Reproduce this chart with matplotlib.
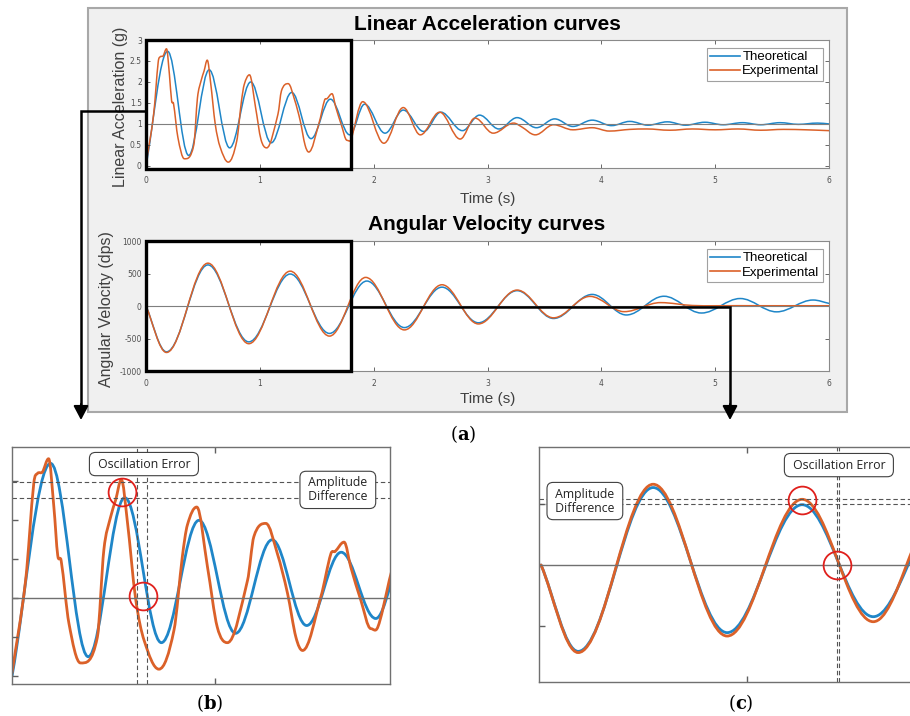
import matplotlib
matplotlib.use('Agg')
import matplotlib.pyplot as plt
import numpy as np
from matplotlib.path import Path
from matplotlib.patches import PathPatch, Rectangle
from matplotlib.lines import Line2D

plt.rcParams['mathtext.fontset'] = 'dejavuserif'

# --- data (time in s) ---
acc_theo_t = [0.0, 0.19, 0.375, 0.555, 0.735, 0.92, 1.10, 1.28, 1.45, 1.62, 1.79,
              1.92, 2.10, 2.26, 2.44, 2.59, 2.78, 2.93, 3.10, 3.26, 3.43, 3.59, 3.75,
              3.92, 4.09, 4.25, 4.41, 4.58, 4.74, 4.91, 5.07, 5.24, 5.40, 5.57, 5.73,
              5.90, 6.0]
acc_theo_v = [0.0, 2.73, 0.25, 2.29, 0.43, 2.00, 0.55, 1.75, 0.65, 1.59, 0.74,
              1.47, 0.78, 1.33, 0.82, 1.28, 0.84, 1.21, 0.88, 1.15, 0.91, 1.12, 0.94,
              1.09, 0.96, 1.06, 0.97, 1.05, 0.97, 1.04, 0.98, 1.03, 0.98, 1.03, 0.99,
              1.02, 1.00]

acc_exp_t = [0.0, 0.067, 0.107, 0.125, 0.15, 0.18, 0.206, 0.225, 0.242, 0.28, 0.337,
             0.42, 0.452, 0.485, 0.51, 0.538, 0.567, 0.608, 0.65, 0.723, 0.797, 0.838,
             0.863, 0.909, 0.962, 1.01, 1.06, 1.159, 1.19, 1.249, 1.306, 1.356, 1.397,
             1.43, 1.52, 1.569, 1.59, 1.634, 1.667, 1.717, 1.766, 1.80, 1.904, 2.09,
             2.26, 2.41, 2.58, 2.76, 2.89, 3.05, 3.23, 3.30, 3.42, 3.58, 3.75, 3.92,
             4.07, 4.25, 4.4, 4.6, 4.8, 5.0, 5.2, 5.4, 5.6, 5.8, 6.0]
acc_exp_v = [0.04, 1.23, 2.47, 2.60, 2.62, 2.79, 2.17, 1.55, 1.48, 0.68, 0.17,
             0.50, 1.62, 2.04, 2.26, 2.52, 2.00, 1.00, 0.46, 0.09, 0.59, 1.53,
             1.94, 2.17, 1.40, 0.63, 0.43, 1.23, 1.79, 1.96, 1.57, 1.06, 0.50,
             0.33, 1.02, 1.57, 1.60, 1.72, 1.40, 0.97, 0.61, 0.63, 1.53, 0.54,
             1.39, 0.74, 1.28, 0.64, 1.14, 0.78, 1.02, 0.93, 0.74, 0.98, 0.86, 0.91,
             0.83, 0.87, 0.88, 0.85, 0.88, 0.86, 0.88, 0.85, 0.87, 0.86, 0.84]

ang_theo_t = [0.0, 0.18, 0.544, 0.903, 1.267, 1.612, 1.94, 2.27, 2.60, 2.92, 3.26,
              3.58, 3.92, 4.22, 4.55, 4.88, 5.22, 5.54, 5.86, 6.0]
ang_theo_v = [0, -705, 632, -552, 492, -422, 384, -332, 290, -258, 236,
              -192, 178, -138, 150, -108, 115, -90, 92, 40]

ang_exp_t = [0.0, 0.18, 0.544, 0.903, 1.267, 1.612, 1.93, 2.27, 2.60, 2.92, 3.26,
             3.58, 3.90, 4.20, 4.52, 4.80, 5.2, 5.6, 6.0]
ang_exp_v = [0, -715, 659, -580, 536, -463, 440, -368, 327, -276, 245,
             -182, 148, -87, 52, 8, 5, 4, 4]

time_ticks = [0, 1, 2, 3, 4, 5, 6]
acc_ticks = [0, 0.5, 1, 1.5, 2, 2.5, 3]
ang_ticks = [-1000, -500, 0, 500, 1000]

# zoom panels: dashed guide levels/times and the red circles
b_levels = [2.49, 2.28]
b_cross = [0.617, 0.666]
b_circ_t = [0.539, 0.644]
b_circ_v = [2.36, 1.03]
c_levels = [536, 496]
c_cross = [1.438, 1.448]
c_circ_t = [1.266, 1.438]
c_circ_v = [531, 0]

BLUE = '#1f86c8'
ORANGE = '#db6129'
NARROW = ['Liberation Sans Narrow', 'Liberation Sans', 'DejaVu Sans']

W, H = 910, 716
fig = plt.figure(figsize=(W / 100, H / 100), dpi=100)


def px_axes(x0, y0, x1, y1, **kw):
    return fig.add_axes([x0 / W, 1 - y1 / H, (x1 - x0) / W, (y1 - y0) / H], **kw)


def smooth_path(t, v):
    t = np.asarray(t, float)
    v = np.asarray(v, float)
    n = len(t)
    m = np.zeros(n)
    for i in range(n):
        if i == 0:
            m[i] = (v[1] - v[0]) / (t[1] - t[0])
        elif i == n - 1:
            m[i] = (v[-1] - v[-2]) / (t[-1] - t[-2])
        elif (v[i] - v[i - 1]) * (v[i + 1] - v[i]) <= 0:
            m[i] = 0.0
        else:
            m[i] = (v[i + 1] - v[i - 1]) / (t[i + 1] - t[i - 1])
    verts = [(t[0], v[0])]
    codes = [Path.MOVETO]
    for i in range(n - 1):
        dt = t[i + 1] - t[i]
        d0 = dt * (0.36 if m[i] == 0 else 1 / 3)
        d1 = dt * (0.36 if m[i + 1] == 0 else 1 / 3)
        verts += [(t[i] + d0, v[i] + m[i] * d0),
                  (t[i + 1] - d1, v[i + 1] - m[i + 1] * d1),
                  (t[i + 1], v[i + 1])]
        codes += [Path.CURVE4] * 3
    return Path(verts, codes)


def draw_curves(ax, pairs, lw):
    for (t, v), c in zip(pairs, [BLUE, ORANGE]):
        ax.add_patch(PathPatch(smooth_path(t, v), fill=False, ec=c, lw=lw,
                               capstyle='round', joinstyle='round'))


def matlab_axes(ax, ylim, yticks, ylabel, label_x, xlabel_y):
    ax.set_xlim(0, 6)
    ax.set_ylim(*ylim)
    ax.set_xticks(time_ticks)
    ax.set_yticks(yticks)
    ax.set_yticklabels([('%g' % y) for y in yticks])
    ax.tick_params(direction='in', length=3, width=0.6, colors='#505050',
                   labelsize=5.5, top=True, right=True)
    ax.tick_params(axis='x', pad=6)
    ax.tick_params(axis='y', pad=3)
    for s in ax.spines.values():
        s.set_color('#8a8a8a')
        s.set_linewidth(0.8)
    ax.text(0.5, xlabel_y, 'Time (s)', transform=ax.transAxes, ha='center', va='center',
            fontsize=11, color='#404040', family=NARROW)
    ax.text(label_x, 0.48, ylabel, transform=ax.transAxes, rotation=90,
            ha='center', va='center', fontsize=11.5, color='#404040', family=NARROW)
    handles = [Line2D([], [], color=BLUE, lw=1.2), Line2D([], [], color=ORANGE, lw=1.2)]
    leg = ax.legend(handles, ['Theoretical', 'Experimental'], loc='upper right',
                    bbox_to_anchor=(0.991, 0.94), borderaxespad=0, fancybox=False,
                    prop={'family': NARROW, 'size': 9.5}, handlelength=2.3,
                    handletextpad=0.15, borderpad=0.25, labelspacing=0.15)
    leg.get_frame().set_edgecolor('#8a8a8a')
    leg.get_frame().set_linewidth(0.8)


# grey MATLAB figure panel
fig.patches.append(Rectangle((88 / W, 1 - 412 / H), (847 - 88) / W, (412 - 8) / H,
                             transform=fig.transFigure, fc='#f0f0f0', ec='#a8a8a8',
                             lw=1.5, zorder=-5))

# ---- (a) top: linear acceleration ----
ax1 = px_axes(146, 40, 829, 168)
ax1.axhline(1, color='#7f7f7f', lw=0.8)
draw_curves(ax1, [(acc_theo_t, acc_theo_v), (acc_exp_t, acc_exp_v)], 1.1)
matlab_axes(ax1, (-0.05, 3.0), acc_ticks, 'Linear Acceleration (g)', -0.038, -0.245)
ax1.add_patch(Rectangle((0, -0.08), 1.8, 3.08, fill=False, ec='black', lw=2.4,
                        clip_on=False, zorder=6))
fig.text(487 / W, 1 - 25 / H, 'Linear Acceleration curves', ha='center', va='center',
         fontsize=15, fontweight='bold', family=NARROW)

# ---- (a) bottom: angular velocity ----
ax2 = px_axes(146, 241, 829, 371)
ax2.axhline(0, color='#7f7f7f', lw=0.8)
draw_curves(ax2, [(ang_theo_t, ang_theo_v), (ang_exp_t, ang_exp_v)], 1.1)
matlab_axes(ax2, (-1000, 1000), ang_ticks, 'Angular Velocity (dps)', -0.058, -0.215)
ax2.add_patch(Rectangle((0, -1000), 1.8, 2000, fill=False, ec='black', lw=2.4,
                        clip_on=False, zorder=6))
fig.text(487 / W, 1 - 224 / H, 'Angular Velocity curves', ha='center', va='center',
         fontsize=15, fontweight='bold', family=NARROW)

# connector arrows (figure pixel coordinates)
axo = fig.add_axes([0, 0, 1, 1], zorder=20)
axo.set_xlim(0, W)
axo.set_ylim(H, 0)
axo.axis('off')
axo.patch.set_visible(False)
axo.plot([146, 81, 81], [111, 111, 408], color='black', lw=1.8, solid_joinstyle='miter')
axo.plot([351, 730, 730], [307, 307, 408], color='black', lw=1.8, solid_joinstyle='miter')
for x in (81, 730):
    axo.annotate('', xy=(x, 420), xytext=(x, 404),
                 arrowprops=dict(arrowstyle='-|>,head_length=0.85,head_width=0.45',
                                 color='black', lw=1.5, shrinkA=0, shrinkB=0))

fig.text(463 / W, 1 - 434 / H, r'($\mathbf{a}$)', ha='center', va='center',
         fontsize=13, family='DejaVu Serif')
fig.text(210 / W, 1 - 703 / H, r'($\mathbf{b}$)', ha='center', va='center',
         fontsize=13, family='DejaVu Serif')
fig.text(741 / W, 1 - 703 / H, r'($\mathbf{c}$)', ha='center', va='center',
         fontsize=13, family='DejaVu Serif')


def zoom_style(ax):
    ax.set_xticks([1])
    ax.set_xticklabels([])
    ax.set_yticklabels([])
    ax.tick_params(direction='in', length=4, width=1, colors='#606060',
                   top=True, right=False)
    for s in ax.spines.values():
        s.set_color('#707070')
        s.set_linewidth(1.0)


def note(ax, x, y, txt):
    ax.text(x, y, txt, transform=ax.transAxes, ha='center', va='center',
            fontsize=8.8, family='Open Sans', color='#222222', linespacing=1.1,
            zorder=10, bbox=dict(boxstyle='round,pad=0.42,rounding_size=0.5',
                                 fc='white', ec='#404040', lw=0.8))


# ---- (b) zoom of linear acceleration ----
axb = px_axes(12, 447, 390, 684)
axb.set_xlim(0, 1.86)
axb.set_ylim(-0.1, 2.94)
axb.set_yticks([0, 0.5, 1, 1.5, 2, 2.5])
axb.axhline(1, color='#707070', lw=1)
for lv in b_levels:
    axb.axhline(lv, color='#555555', lw=0.8, ls=(0, (4, 2.5)))
for ct in b_cross:
    axb.axvline(ct, color='#555555', lw=0.8, ls=(0, (4, 2.5)))
draw_curves(axb, [(acc_theo_t, acc_theo_v), (acc_exp_t, acc_exp_v)], 2.0)
axb.plot(b_circ_t, b_circ_v, 'o', ms=20, mfc='none', mec='#e0201c', mew=1.3, zorder=8)
zoom_style(axb)
note(axb, 0.349, 0.928, ' Oscillation Error ')
note(axb, 0.862, 0.819, ' Amplitude \n Difference ')

# ---- (c) zoom of angular velocity ----
axc = px_axes(539, 447, 912, 682)
axc.set_xlim(-0.01, 1.80)
axc.set_ylim(-955, 963)
axc.set_yticks([-500, 500])
axc.axhline(0, color='#707070', lw=1)
for lv in c_levels:
    axc.axhline(lv, color='#555555', lw=0.8, ls=(0, (4, 2.5)))
for ct in c_cross:
    axc.axvline(ct, color='#555555', lw=0.8, ls=(0, (4, 2.5)))
draw_curves(axc, [(ang_theo_t, ang_theo_v), (ang_exp_t, ang_exp_v)], 2.0)
axc.plot(c_circ_t, c_circ_v, 'o', ms=20, mfc='none', mec='#e0201c', mew=1.3, zorder=8)
zoom_style(axc)
note(axc, 0.804, 0.923, ' Oscillation Error ')
note(axc, 0.123, 0.770, ' Amplitude \n Difference ')

fig.savefig('out.png', dpi=100)
